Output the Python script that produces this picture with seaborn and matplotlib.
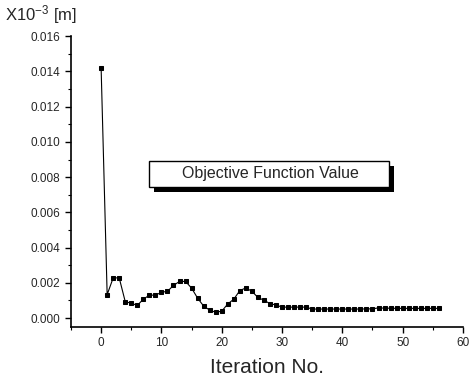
import numpy as np
import pandas as pd
import seaborn as sns
import matplotlib.pyplot as plt
import matplotlib.patheffects as pe
from matplotlib.patches import Rectangle
from matplotlib.ticker import MultipleLocator

# valori
iterazioni = list(range(57))
valori = [0.0142, 0.00133, 0.00228, 0.00228, 0.00093, 0.00084, 0.00072, 0.00107,
          0.00130, 0.00130, 0.00146, 0.00152, 0.00185, 0.00208, 0.00208, 0.00170,
          0.00113, 0.00068, 0.00045, 0.00033, 0.00039, 0.00080, 0.00107, 0.00156,
          0.00171, 0.00152, 0.00117, 0.00101, 0.00082, 0.00074, 0.00062, 0.00062,
          0.00062, 0.00062, 0.00062, 0.00051, 0.00051, 0.00051, 0.00051, 0.00051,
          0.00051, 0.00051, 0.00051, 0.00051, 0.00052, 0.00052, 0.00058, 0.00056,
          0.00056, 0.00055, 0.00055, 0.00055, 0.00055, 0.00055, 0.00055, 0.00055,
          0.00055]

df = pd.DataFrame({'Iterazione': iterazioni, 'Valore': valori})

sns.set_style('ticks')
plt.rcParams['font.family'] = ['Liberation Sans', 'DejaVu Sans']
plt.rcParams['mathtext.default'] = 'regular'

fig = plt.figure(figsize=(4.7, 3.85), dpi=100)
ax = fig.add_axes([0.151, 0.151, 0.834, 0.755])

sns.lineplot(data=df, x='Iterazione', y='Valore', ax=ax, color='black',
             marker='s', markersize=3.5, markeredgecolor='black', linewidth=0.8)

ax.set_xlim(-5, 60)
ax.set_ylim(-0.0005, 0.016)
ax.xaxis.set_major_locator(MultipleLocator(10))
ax.xaxis.set_minor_locator(MultipleLocator(5))
ax.yaxis.set_major_locator(MultipleLocator(0.002))
ax.yaxis.set_minor_locator(MultipleLocator(0.001))
ax.yaxis.set_major_formatter(plt.FuncFormatter(lambda v, p: f'{v:.3f}'))
ax.tick_params(axis='both', which='major', labelsize=8.5, length=4, width=1, color='black')
ax.tick_params(axis='both', which='minor', length=2, width=0.8, color='black')
for lbl in ax.get_yticklabels():
    if lbl.get_position()[1] < 0:
        lbl.set_visible(False)

sns.despine(ax=ax)
for s in ['left', 'bottom']:
    ax.spines[s].set_linewidth(1.2)
    ax.spines[s].set_color('black')

ax.set_xlabel('Iteration No.', fontsize=15, labelpad=6)
ax.set_ylabel('')
fig.text(0.01, 0.962, 'X10$^{-3}$ [m]', fontsize=12, ha='left', va='center')

# riquadro con ombra
box = Rectangle((0.199, 0.481), 0.612, 0.089, transform=ax.transAxes,
                facecolor='white', edgecolor='black', linewidth=1, zorder=5)
box.set_path_effects([pe.SimplePatchShadow(offset=(3.5, -3.5), shadow_rgbFace='black', alpha=1),
                      pe.Normal()])
ax.add_patch(box)
ax.text(0.509, 0.526, 'Objective Function Value', transform=ax.transAxes,
        ha='center', va='center', fontsize=11.5, zorder=6)

plt.savefig('out.png', dpi=100)
plt.close()
